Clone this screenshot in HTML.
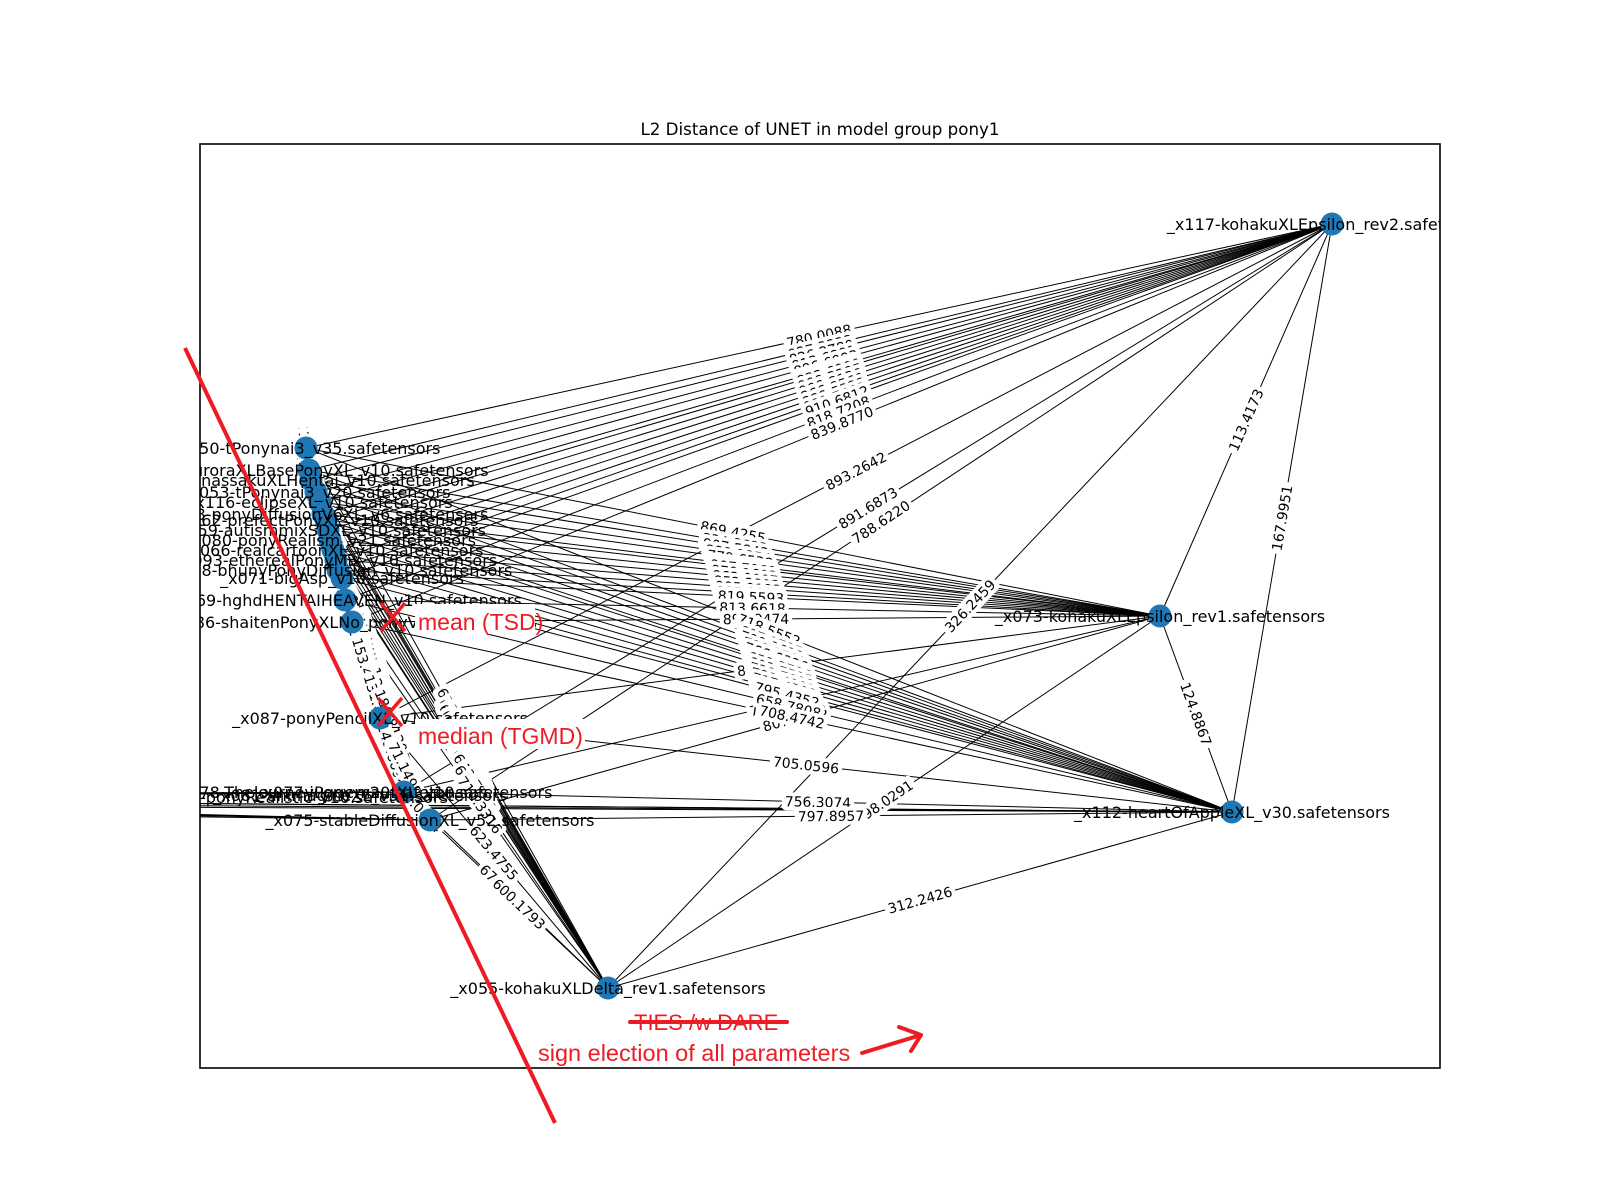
<!DOCTYPE html>
<html><head><meta charset="utf-8"><style>
html,body{margin:0;padding:0;background:#fff;width:1600px;height:1200px;overflow:hidden}
svg{display:block}
</style></head><body>
<svg id="s" xmlns="http://www.w3.org/2000/svg" width="1600" height="1200" viewBox="0 0 1600 1200">
<defs><clipPath id="ax"><rect x="200" y="144" width="1240" height="924"/></clipPath></defs>
<rect width="1600" height="1200" fill="#fff"/>
<text x="820" y="135" font-family="DejaVu Sans, Liberation Sans, sans-serif" font-size="16.7" text-anchor="middle">L2 Distance of UNET in model group pony1</text>
<g id="edges" clip-path="url(#ax)"></g>
<g id="elabels" clip-path="url(#ax)"></g>
<g id="nodes" clip-path="url(#ax)"></g>
<g id="nlabels" clip-path="url(#ax)"></g>
<rect x="200" y="144" width="1240" height="924" fill="none" stroke="#000" stroke-width="1.6"/>
<g id="red" font-family="Liberation Sans, Noto Sans CJK SC, sans-serif" fill="#ed1c24"></g>
</svg>
<script>
var NS="http://www.w3.org/2000/svg";
function el(t,a,p){var e=document.createElementNS(NS,t);for(var k in a)e.setAttribute(k,a[k]);if(p)p.appendChild(e);return e;}
var nodes=[
{x:1332,y:224,l:"_x117-kohakuXLEpsilon_rev2.safetensors",h:1},
{x:1160,y:616,l:"_x073-kohakuXLEpsilon_rev1.safetensors",h:1},
{x:1232,y:812,l:"_x112-heartOfAppleXL_v30.safetensors",h:1},
{x:608,y:988,l:"_x055-kohakuXLDelta_rev1.safetensors",h:1},
{x:306,y:448,l:"_x050-tPonynai3_v35.safetensors"},
{x:309,y:470,l:"_x061-auroraXLBasePonyXL_v10.safetensors"},
{x:311,y:480,l:"_x064-nassakuXLHentai_v10.safetensors"},
{x:316,y:492,l:"_x053-tPonynai3_v20.safetensors"},
{x:320,y:502,l:"_x116-eclipseXL_v10.safetensors"},
{x:323,y:514,l:"_x058-ponyDiffusionV6XL_v6.safetensors"},
{x:326,y:520,l:"_x062-prefectPonyXL_v10.safetensors"},
{x:328,y:530,l:"_x059-autismmixSDXL_v10.safetensors"},
{x:330,y:540,l:"_x080-ponyRealism_v21.safetensors"},
{x:333,y:550,l:"_x066-realcartoonXL_v10.safetensors"},
{x:336,y:560,l:"_x093-etherealPonyMix_v10.safetensors"},
{x:338,y:570,l:"_x068-bhunyPonyDiffusion_v10.safetensors"},
{x:342,y:578,l:"_x071-bigAsp_v10.safetensors"},
{x:345,y:600,l:"_x069-hghdHENTAIHEAVEN_v10.safetensors"},
{x:352,y:622,l:"_x086-shaitenPonyXLNo_ponyV35.safetensors"},
{x:380,y:718,l:"_x087-ponyPencilXL_v10.safetensors"},
{x:404,y:792,l:"_x077-juggernautXL_v10.safetensors"},
{x:430,y:820,l:"_x075-stableDiffusionXL_v52.safetensors"},
{x:-500,y:798,l:"_x078-ThelourneyPony_v20.safetensors",o:1},
{x:-600,y:801,l:"_x079-ponyRealistic_v10.safetensors",o:1},
{x:-700,y:796,l:"_x081-animagineXL_v31.safetensors",o:1},
{x:-800,y:803,l:"_x082-juggerPonyXL_v10.safetensors",o:1}
];
var fixed={"0-1":"113.4173","0-2":"167.9951","1-2":"124.8867","2-3":"312.2426","0-3":"326.2459","1-3":"698.0291"};
var seed=7;function rnd(){seed=(seed*16807)%2147483647;return seed/2147483647;}
var E=document.getElementById("edges"),L=document.getElementById("elabels");
var pend=[];
for(var i=0;i<nodes.length;i++)for(var j=i+1;j<nodes.length;j++){
 var a=nodes[i],b=nodes[j];
 if(a.o||b.o){var other=a.o?b:a; if(other.o)continue; if(!(other===nodes[2]||other===nodes[20]||other===nodes[21]))continue;}
 el("line",{x1:a.x,y1:a.y,x2:b.x,y2:b.y,stroke:"#000","stroke-width":1},E);
 var key=i+"-"+j,v;
 if(fixed[key])v=fixed[key];
 else{var base=(a.h||b.h)?(i==0?780:(i==3?560:(i==1?760:650))):20+rnd()*120; v=(base+rnd()*160).toFixed(4);}
 if(a.o||b.o)continue;
 pend.push({a:a,b:b,v:v});
}
pend.forEach(function(p){
 var mx=(p.a.x+p.b.x)/2,my=(p.a.y+p.b.y)/2;
 var ang=Math.atan2(p.b.y-p.a.y,p.b.x-p.a.x)*180/Math.PI;
 if(ang>90)ang-=180;if(ang<-90)ang+=180;
 var g=el("g",{transform:"translate("+mx+","+my+") rotate("+ang+")"},L);
 var w=p.v.length*8.3+6;
 el("rect",{x:-w/2,y:-9,width:w,height:18,rx:4,fill:"#fff"},g);
 var t=el("text",{x:0,y:5,"text-anchor":"middle","font-family":"DejaVu Sans, Liberation Sans, sans-serif","font-size":"13.9"},g);
 t.textContent=p.v;
});
var N=document.getElementById("nodes"),NL=document.getElementById("nlabels");
nodes.forEach(function(n){
 if(n.o)return;
 el("circle",{cx:n.x,cy:n.y,r:11.5,fill:"#1f77b4"},N);
 var t=el("text",{x:n.x,y:n.y+6,"text-anchor":"middle","font-family":"DejaVu Sans, Liberation Sans, sans-serif","font-size":"16"},NL);
 t.textContent=n.l;
});
[["_x078-ThelourneyPony_v20.safetensors",330,798],["_x079-ponyRealistic_v10.safetensors",300,803],["_x081-animagineXL_v31.safetensors",360,801]].forEach(function(a){
 var t=el("text",{x:a[1],y:a[2],"text-anchor":"middle","font-family":"DejaVu Sans, Liberation Sans, sans-serif","font-size":"16"},NL);t.textContent=a[0];
});
var R=document.getElementById("red");
el("line",{x1:185,y1:348,x2:555,y2:1123,stroke:"#ed1c24","stroke-width":4},R);
function X(cx,cy){el("line",{x1:cx-12,y1:cy-14,x2:cx+12,y2:cy+14,stroke:"#ed1c24","stroke-width":3.5},R);el("line",{x1:cx+12,y1:cy-14,x2:cx-12,y2:cy+14,stroke:"#ed1c24","stroke-width":3.5},R);}
el("rect",{x:415,y:604,width:120,height:30,fill:"#fff"},R);
var t1=el("text",{x:418,y:630,"font-size":"23"},R);t1.textContent="mean (TSD)";
X(393,617);
el("rect",{x:415,y:719,width:170,height:30,fill:"#fff"},R);
var t2=el("text",{x:418,y:744,"font-size":"23"},R);t2.textContent="median (TGMD)";
X(390,712);
var t3=el("text",{x:634,y:1030,"font-size":"22"},R);t3.textContent="TIES /w DARE";
el("line",{x1:630,y1:1022,x2:787,y2:1022,stroke:"#ed1c24","stroke-width":4,"stroke-linecap":"round"},R);
var t4=el("text",{x:538,y:1061,"font-size":"23.5"},R);t4.textContent="sign election of all parameters";
el("path",{d:"M862 1053 L921 1035 M899 1027 L921 1035 L911 1051",stroke:"#ed1c24","stroke-width":4,fill:"none","stroke-linecap":"round","stroke-linejoin":"round"},R);
</script>
</body></html>
